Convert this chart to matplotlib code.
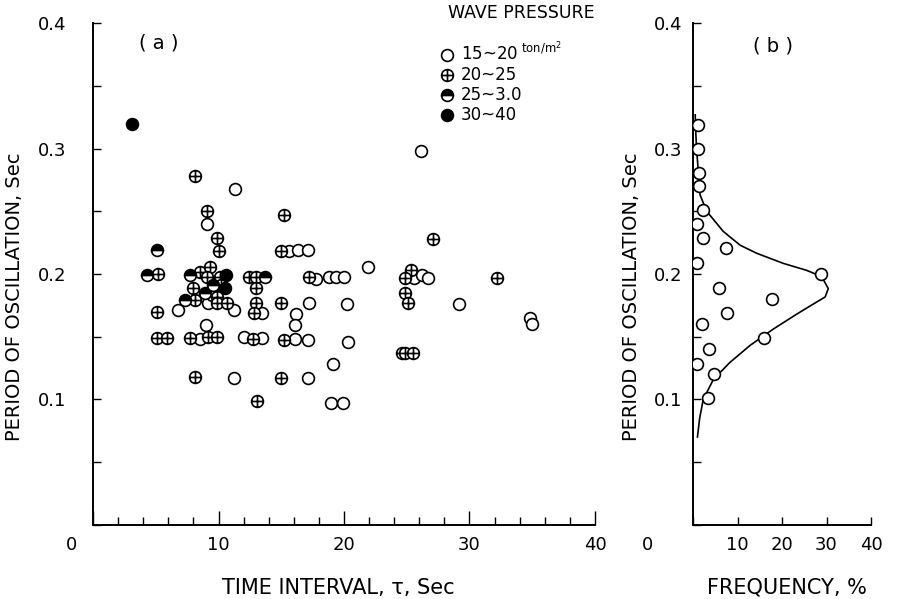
import matplotlib.pyplot as plt
import matplotlib.transforms as mtransforms
from matplotlib.lines import Line2D
from matplotlib.path import Path
from matplotlib.ticker import FixedLocator, FuncFormatter, MultipleLocator

plt.rcParams["font.family"] = ["DejaVu Sans"]

# (a) time interval tau [s] vs period of oscillation [s], by wave pressure class
TAU_15_20 = [6.8, 9.0, 9.2, 8.5, 11.2, 11.2, 12.0, 13.5, 13.5, 11.3, 9.1, 15.6, 16.3,
             17.1, 17.8, 18.8, 19.4, 20.0, 21.9, 26.1, 25.6, 26.2, 26.7, 17.2, 20.2,
             29.2, 16.2, 16.1, 16.1, 17.1, 20.3, 19.1, 17.1, 19.0, 19.95, 34.8, 34.95,
             9.5]
PER_15_20 = [0.171, 0.159, 0.177, 0.148, 0.171, 0.117, 0.150, 0.169, 0.149, 0.268,
             0.240, 0.218, 0.219, 0.219, 0.196, 0.198, 0.198, 0.198, 0.206, 0.298,
             0.197, 0.199, 0.197, 0.177, 0.176, 0.176, 0.168, 0.159, 0.148, 0.147,
             0.146, 0.128, 0.117, 0.097, 0.097, 0.165, 0.160, 0.183]

TAU_20_25 = [8.1, 9.1, 9.9, 10.0, 5.15, 8.5, 9.35, 9.05, 10.1, 12.4, 13.0, 8.0, 13.0,
             10.2, 8.1, 9.85, 5.07, 9.85, 10.65, 13.0, 12.8, 15.0, 5.07, 5.87, 7.73,
             9.19, 9.85, 12.77, 15.2, 8.13, 15.0, 13.1, 15.2, 27.07, 14.96, 17.2,
             25.3, 24.9, 32.2, 24.9, 25.1, 24.6, 24.9, 25.5]
PER_20_25 = [0.278, 0.250, 0.229, 0.218, 0.200, 0.202, 0.206, 0.198, 0.198, 0.198,
             0.198, 0.189, 0.189, 0.191, 0.179, 0.182, 0.170, 0.177, 0.177, 0.177,
             0.169, 0.177, 0.149, 0.149, 0.149, 0.150, 0.150, 0.148, 0.147, 0.118,
             0.117, 0.099, 0.247, 0.228, 0.218, 0.198, 0.203, 0.197, 0.197, 0.185,
             0.177, 0.137, 0.137, 0.137]

TAU_25_30 = [5.07, 4.33, 7.73, 13.7, 7.33, 8.9, 9.6]
PER_25_30 = [0.219, 0.199, 0.199, 0.198, 0.179, 0.185, 0.191]

TAU_30_40 = [3.1, 10.6, 10.5]
PER_30_40 = [0.320, 0.199, 0.189]

# (b) frequency [%] of period of oscillation
FREQ_PTS = [1.2, 1.2, 1.35, 1.35, 2.2, 0.97, 2.2, 7.4, 0.82, 28.8, 5.9, 17.7, 7.6,
            1.95, 16.0, 3.6, 0.97, 4.7, 3.3]
PER_PTS = [0.319, 0.300, 0.281, 0.270, 0.251, 0.240, 0.229, 0.221, 0.209, 0.200,
           0.189, 0.180, 0.169, 0.160, 0.149, 0.140, 0.128, 0.120, 0.101]

FREQ_CURVE = [0.5, 0.6, 0.8, 1.3, 1.6, 3.1, 6.8, 10.6, 14.3, 20.3, 25.5, 28.9, 30.4,
              29.7, 27.0, 23.3, 18.0, 12.8, 8.3, 4.6, 2.3, 1.5, 1.0]
PER_CURVE = [0.327, 0.315, 0.300, 0.277, 0.263, 0.250, 0.234, 0.223, 0.2166, 0.2085,
             0.203, 0.198, 0.1884, 0.1817, 0.176, 0.168, 0.156, 0.143, 0.1295, 0.116,
             0.100, 0.085, 0.070]

LEGEND_LABELS = ["15~20$^{\\ \\mathrm{ton/m^2}}$", "20~25", "25~3.0", "30~40"]

MS = 8.5
MEW = 1.2
OPLUS = Path.make_compound_path(
    Path.unit_circle(),
    Path([[-1, 0], [1, 0], [0, -1], [0, 1]],
         [Path.MOVETO, Path.LINETO, Path.MOVETO, Path.LINETO]),
)

STYLE_15 = dict(marker="o", mfc="white", mec="black", ms=MS, mew=MEW, ls="none")
STYLE_20 = dict(marker=OPLUS, mfc="white", mec="black", ms=MS, mew=MEW, ls="none")
STYLE_25 = dict(marker="o", fillstyle="top", mfc="black", markerfacecoloralt="white",
                mec="black", ms=MS, mew=MEW, ls="none")
STYLE_30 = dict(marker="o", mfc="black", mec="black", ms=MS, mew=MEW, ls="none")

XPAD = 8


def _no_zero(v, _pos):
    return "" if v == 0 else f"{v:g}"


def _style_axes(ax, zero_shift):
    for side in ("top", "right"):
        ax.spines[side].set_visible(False)
    for side in ("left", "bottom"):
        ax.spines[side].set_linewidth(1.4)
    ax.set_xlim(0, 40)
    ax.set_ylim(0, 0.4)
    ax.xaxis.set_major_locator(MultipleLocator(10))
    ax.xaxis.set_major_formatter(FuncFormatter(_no_zero))
    ax.yaxis.set_major_locator(FixedLocator([0.1, 0.2, 0.3, 0.4]))
    ax.yaxis.set_minor_locator(MultipleLocator(0.05))
    ax.set_yticklabels(["0.1", "0.2", "0.3", "0.4"])
    ax.tick_params(which="both", direction="in", width=1.0, labelsize=13)
    ax.tick_params(axis="y", which="both", length=6)
    # the origin label sits left of the corner in the original drawing
    shift = mtransforms.ScaledTranslation(zero_shift / 100, -XPAD / 72,
                                          fig.dpi_scale_trans)
    ax.text(0, 0, "0", transform=ax.get_xaxis_transform() + shift,
            fontsize=13, ha="center", va="top")


fig = plt.figure(figsize=(9.11, 5.99), dpi=100)
ax_a = fig.add_axes([0.1021, 0.124, 0.551, 0.837])
ax_b = fig.add_axes([0.7607, 0.124, 0.1954, 0.837])

# --- panel (a)
ax_a.plot(TAU_15_20, PER_15_20, **STYLE_15, zorder=3)
ax_a.plot(TAU_20_25, PER_20_25, **STYLE_20, zorder=3)
ax_a.plot(TAU_25_30, PER_25_30, **STYLE_25, zorder=4)
ax_a.plot(TAU_30_40, PER_30_40, **STYLE_30, zorder=4)

_style_axes(ax_a, -22)
ax_a.xaxis.set_minor_locator(MultipleLocator(2))
ax_a.tick_params(axis="x", which="major", length=10, pad=XPAD)
ax_a.tick_params(axis="x", which="minor", length=6)
ax_a.tick_params(axis="y", pad=19)
ax_a.set_xlabel("TIME INTERVAL, τ, Sec", fontsize=15)
ax_a.set_ylabel("PERIOD OF OSCILLATION, Sec", fontsize=14)
ax_a.xaxis.set_label_coords(0.488, -0.106)
ax_a.yaxis.set_label_coords(-0.137, 0.455)
ax_a.text(0.13, 0.96, "( a )", transform=ax_a.transAxes, fontsize=14,
          ha="center", va="center")

ax_a.text(1.0, 1.02, "WAVE PRESSURE", transform=ax_a.transAxes, fontsize=12.5,
          ha="right", va="center")
handles = [Line2D([], [], **STYLE_15), Line2D([], [], **STYLE_20),
           Line2D([], [], **STYLE_25), Line2D([], [], **STYLE_30)]
ax_a.legend(handles, LEGEND_LABELS, loc="upper left", bbox_to_anchor=(0.69, 0.965),
            frameon=False, fontsize=12, borderpad=0, borderaxespad=0,
            handlelength=0.9, handletextpad=0.4, labelspacing=0.12)

# --- panel (b)
ax_b.plot(FREQ_CURVE, PER_CURVE, color="black", lw=1.2, zorder=2)
ax_b.plot(FREQ_PTS, PER_PTS, **STYLE_15, zorder=3)

_style_axes(ax_b, -45)
ax_b.tick_params(axis="x", length=6, pad=XPAD)
ax_b.tick_params(axis="y", pad=8)
ax_b.set_xlabel("FREQUENCY, %", fontsize=15)
ax_b.set_ylabel("PERIOD OF OSCILLATION, Sec", fontsize=14)
ax_b.xaxis.set_label_coords(0.53, -0.106)
ax_b.yaxis.set_label_coords(-0.29, 0.455)
ax_b.text(0.45, 0.955, "( b )", transform=ax_b.transAxes, fontsize=14,
          ha="center", va="center")

fig.savefig("out.png", dpi=100, facecolor="white")
